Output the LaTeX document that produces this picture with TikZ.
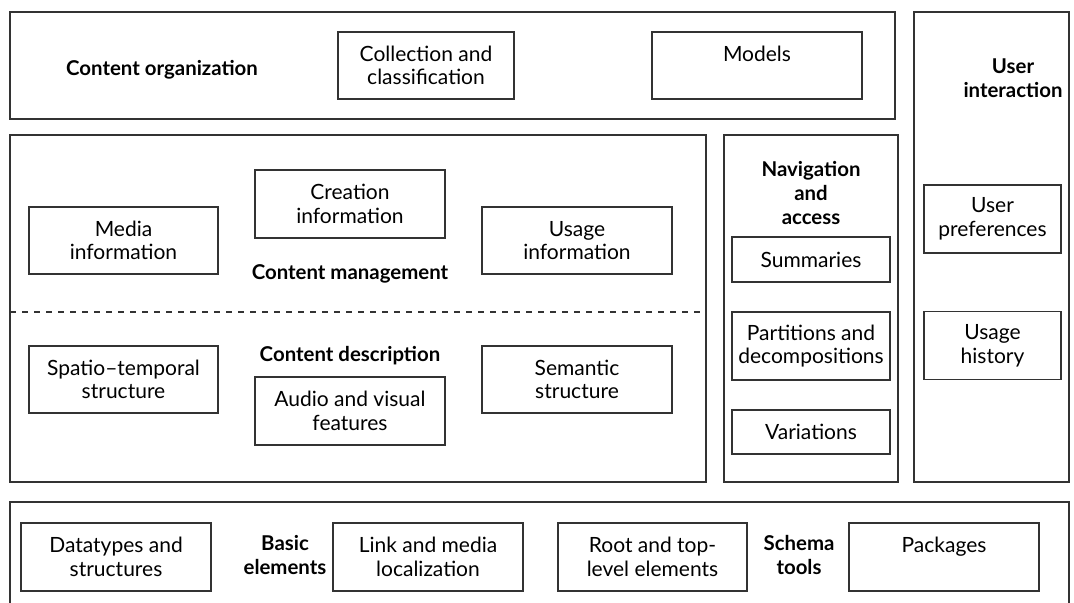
\documentclass[tikz,border=0pt]{standalone}
\usepackage{fontspec}
\setmainfont{Lato}
\begin{document}
\begin{tikzpicture}[x=0.5pt,y=-0.5pt,
  frame/.style={draw=black!80, line width=0.7pt},
  boxsize/.style 2 args={minimum width=#1*0.5pt, minimum height=#2*0.5pt},
  box/.style={draw=black!80, line width=0.6pt, align=center, inner sep=0pt,
    font=\fontsize{10.5}{11.8}\selectfont},
  title/.style={align=center, inner sep=0pt,
    font=\bfseries\fontsize{10.2}{11.8}\selectfont}]
\useasboundingbox (0,0) rectangle (1074,603);
% The frames
\draw[frame] (10,12) rectangle (895,119);
\draw[frame] (914,12) rectangle (1069,482);
\draw[frame] (724,135) rectangle (898,482);
\draw[frame] (10,135) rectangle (706,482);
\draw[frame, dashed] (10,312) -- (706,312);
\draw[frame] (10,610) -- (10,502) -- (1069,502) -- (1069,610);
% Content organization
\node[title] (orgt) at (162,70) {Content organization};
\node[box, boxsize={176}{67}] (coll) at (426,65.5) {Collection and\\classification};
\node[box, boxsize={210}{67}] (models) at (757,65.5) {Models\\{}};
% User interaction
\node[title] (usert) at (1013,78) {User\\interaction};
\node[box, boxsize={137}{68}] (pref) at (992.5,219) {User\\preferences};
\node[box, boxsize={137}{68}] (hist) at (992.5,345.5) {Usage\\history};
% Navigation and access
\node[title] (navt) at (811,193) {Navigation\\and\\access};
\node[box, boxsize={158}{45}] (summ) at (811,259.5) {Summaries};
\node[box, boxsize={158}{68}] (part) at (811,346) {Partitions and\\decompositions};
\node[box, boxsize={158}{44}] (vari) at (811,432) {Variations};
% Content management
%     upper half
\node[box, boxsize={189}{67}] (media) at (123.5,240.5) {Media\\information};
\node[box, boxsize={190}{68}] (creat) at (350,204) {Creation\\information};
\node[box, boxsize={190}{67}] (usage) at (577,240.5) {Usage\\information};
\node[title] (mgmt) at (350,274) {Content management};
%     lower half
\node[title] (desc) at (350,356) {Content description};
\node[box, boxsize={189}{67}] (spat) at (123.5,379.5) {Spatio--temporal\\structure};
\node[box, boxsize={190}{68}] (audio) at (350,411) {Audio and visual\\features};
\node[box, boxsize={190}{67}] (sem) at (577,379.5) {Semantic\\structure};
% Basic elements and schema tools
\node[box, boxsize={190}{68}] (dtype) at (116,557) {Datatypes and\\structures};
\node[title] (basic) at (285,555) {Basic\\elements};
\node[box, boxsize={190}{68}] (link) at (428,557) {Link and media\\localization};
\node[box, boxsize={189}{68}] (root) at (652.5,557) {Root and top-\\level elements};
\node[title] (schema) at (799,555) {Schema\\tools};
\node[box, boxsize={190}{68}] (pack) at (944,557) {Packages\\{}};
\end{tikzpicture}
\end{document}
